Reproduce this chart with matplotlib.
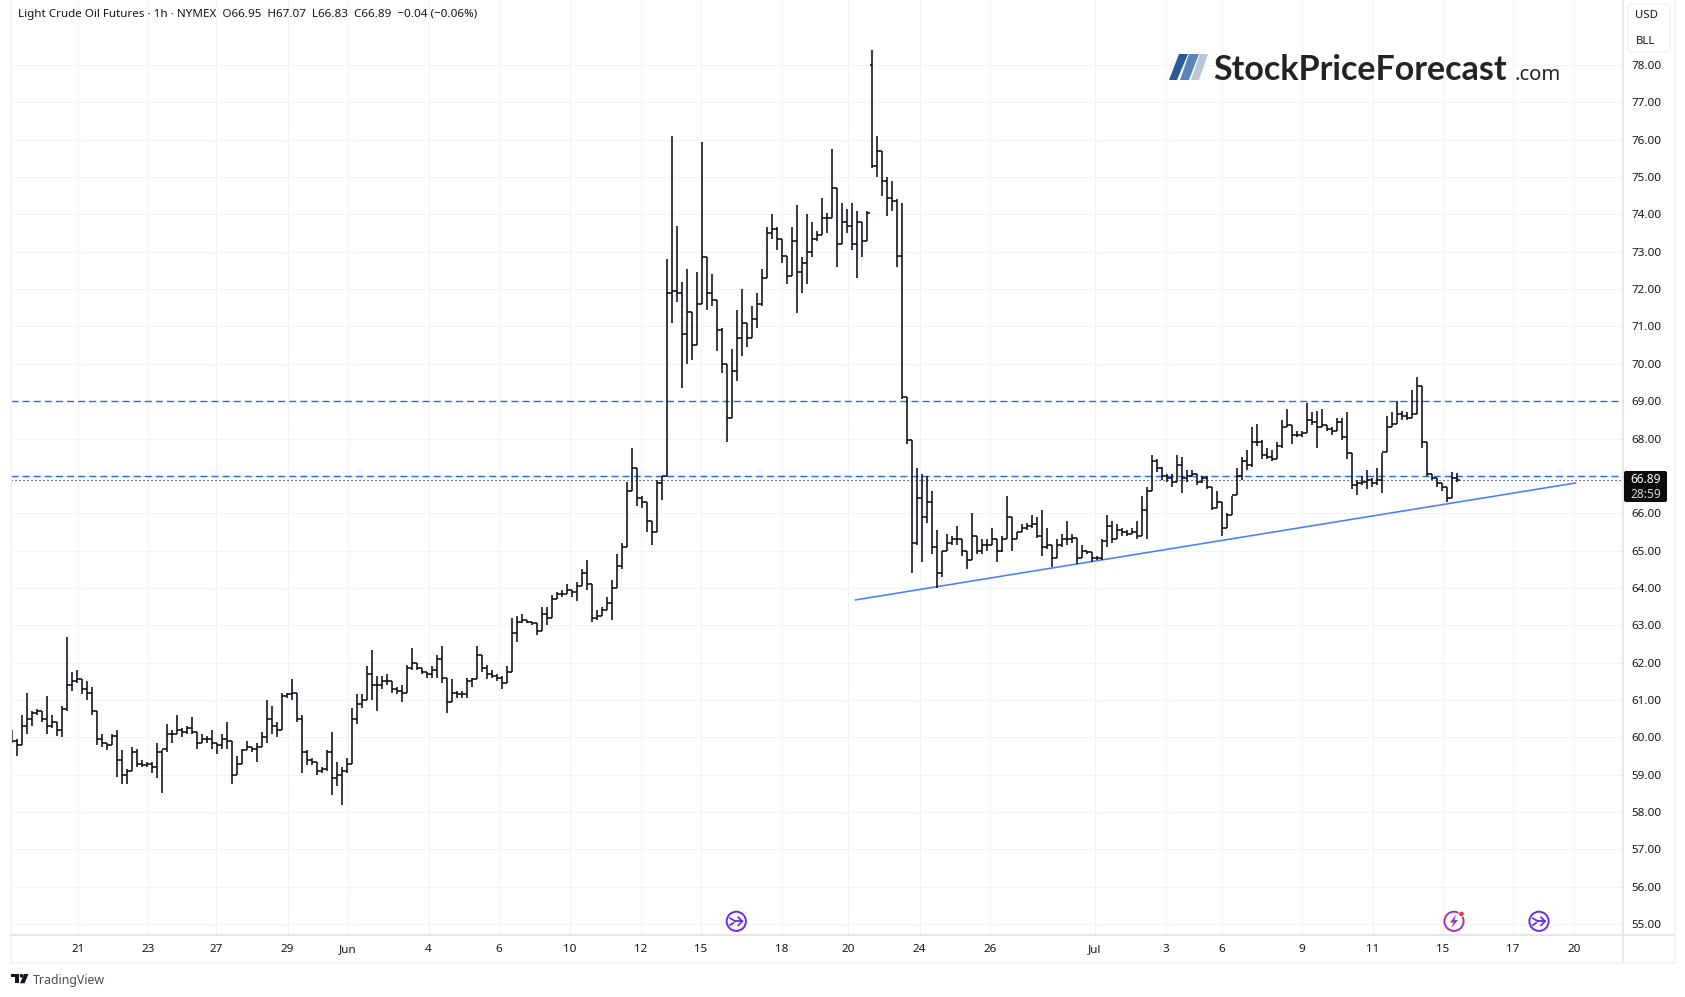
import numpy as np
import matplotlib
matplotlib.use("Agg")
import matplotlib.pyplot as plt
from matplotlib.collections import LineCollection
from matplotlib.patches import Circle, FancyBboxPatch, Polygon

plt.rcParams["font.family"] = ["Noto Sans", "DejaVu Sans"]

# hourly bars, one kept for every three or so
high_may = [60.2,59.95,60.6,61.2,60.7,60.75,60.65,61.1,60.6,60.4,
    60.85,62.7,61.75,61.8,61.5,61.5,61.35,60.6,60.1,59.85,
    60.1,60.2,59.65,59.15,59.75,59.7,59.4,59.35,59.35,59.85,
    59.65,60.35,60.2,60.6,60.25,60.3,60.55,60.1,60.1,60.05,
    60.2,59.85,60.1,60.4,59.8,59.5,59.7,59.9,59.75,59.85,
    60.15,61,60.85,60.4,61.2,61.2,61.55,60.8,60.6,59.65,
    59.45,59.35,59.2,59.65,60.15,59.35,59.2]
low_may = [59.85,59.5,60.1,60.1,60.3,60.6,60.4,60.1,60.25,60.05,
    60,60.7,61.25,61.45,61.15,61,60.6,59.8,59.75,59.65,
    59.85,58.95,58.75,58.75,59.1,59.2,59.2,59.2,59.05,58.9,
    58.5,59.6,59.85,60.1,60,60.1,60.1,59.7,59.9,59.85,
    59.7,59.55,59.7,59.7,58.75,59.05,59.45,59.7,59.6,59.35,
    59.8,59.85,60.1,60,60.55,61.05,61,60.4,59.05,59.25,
    59.25,59,59.05,59.1,58.45,58.7,58.2]
close_may = [59.9,59.8,60.3,60.5,60.65,60.7,60.5,60.3,60.4,60.2,
    60.75,61.4,61.5,61.55,61.3,61.2,60.7,59.95,59.85,59.8,
    60.05,59.4,59,59.1,59.6,59.3,59.25,59.3,59.2,59.6,
    59.7,60.1,60.1,60.2,60.15,60.25,60.15,59.85,59.95,59.95,
    59.85,59.8,59.95,59.9,59,59.3,59.65,59.75,59.7,59.75,
    60,60.5,60.3,60.2,61.1,61.15,61.2,60.5,59.6,59.4,
    59.35,59.1,59.15,59.6,58.9,59.0,59.1]

high_jun = [59.45,60.8,61.15,61.15,61.9,62.35,61.65,61.65,61.7,61.45,
    61.35,61.4,61.95,62.4,62,61.85,61.75,61.9,62.2,62.45,
    61.5,61.55,61.25,61.25,61.6,61.6,62.45,62,61.95,61.8,
    61.7,61.65,61.9,63.2,63.25,63.3,63.15,63.1,63.05,63.5,
    63.5,63.8,63.9,63.95,64.1,63.95,64.15,64.5,64.75,63.95,
    63.4,63.5,63.75,64.2,64.9,65.2,66.85,67.75,66.9,66.45,
    66.2,65.6,66.9,67,72.8,76.1,73.7,72.2,72.55,71.1,
    72.45,75.95,72.55,72.4,71.35,70.95,69.25,70.4,71.45,72,
    71.1,71.55,71.9,72.55,73.65,74,73.65,73.35,72.85,73.65,
    74.25,72.85,74,73.8,73.55,74.45,74.05,75.75,73.95,74.3,
    74.15,74.3,74.1,73.8,74.1,78.4,76.1,75.35,75,74.9,
    74.4,74.3,68.95,67.85,67.2,67.05,67,66.6,65.55,65,
    65.45,65.4,65.65,65.15,65,66,65.3,65.3,65.3,65.6,
    65.2,65.4,66.45,65.55,65.5,65.7,65.75,65.95,65.9,66.1,
    65.6,64.9,65.3,65.45,65.8,65.45,65.1,65.15,65,64.9]
low_jun = [59.05,59.55,60.35,60.8,61,61,60.7,61.3,61.4,61.2,
    61.15,60.95,61.35,61.8,61.8,61.7,61.6,61.6,61.6,61.45,
    60.65,61.1,61.05,61.05,61.05,61.35,61.6,61.75,61.55,61.6,
    61.5,61.3,61.5,62.15,62.55,63.05,63.05,63,62.75,63.1,
    63,63.35,63.75,63.75,63.85,63.75,63.65,64.1,63.95,63.1,
    63.15,63.25,63.4,63.15,64.4,64.5,65.8,66.7,66.2,66.15,
    65.5,65.15,65.75,66.35,67,71.1,71.65,69.35,70,70.1,
    71.15,72.8,71.45,71.55,70.35,69.75,67.9,69.65,69.55,70.2,
    70.45,70.9,70.95,71.55,72.5,73.35,73.05,72.7,72.15,73.15,
    71.35,71.9,72.15,72.85,73.3,73.6,73.5,74.3,72.6,73.2,
    73.5,73.05,72.3,72.85,73.4,75.25,75,74.5,73.95,74.1,
    72.6,69.05,67.85,64.4,65.15,64.7,65.75,64.9,64,64.3,
    65.05,65.15,65.15,64.85,64.5,65.2,64.9,64.9,65,65.15,
    64.7,64.95,65.75,65,65.3,65.55,65.55,65.6,65.35,64.85,
    65.05,64.55,64.85,65.1,65.15,65.2,64.65,64.9,64.9,64.7]
close_jun = [59.3,60.5,60.9,61,61.7,61.4,61.4,61.5,61.5,61.3,
    61.25,61.2,61.85,62,61.85,61.75,61.7,61.8,62.1,61.6,
    60.95,61.2,61.15,61.15,61.5,61.55,62.2,61.85,61.7,61.65,
    61.6,61.45,61.75,62.8,63.1,63.15,63.1,63.05,62.85,63.3,
    63.2,63.7,63.85,63.85,63.95,63.9,64.05,64.4,64.1,63.2,
    63.25,63.4,63.6,64,64.6,65.1,66.6,67.2,66.4,66.3,
    65.8,65.5,66.8,67,71.9,71.95,71.9,70.8,71.4,70.5,
    71.6,72.85,71.9,71.7,70.9,70,68.55,69.8,70.7,71.1,
    70.7,71.2,71.6,72.3,73.5,73.6,73.35,72.9,72.35,73.3,
    72.45,72.7,73,73.35,73.45,73.9,73.9,74.7,73.2,73.8,
    73.7,73.2,73.8,73.3,74.05,75.3,75.7,74.9,74.45,74.35,
    72.9,69.1,67.95,65.2,66.4,65.9,66.3,65.1,64.4,65,
    65.2,65.3,65.3,65,64.75,65.4,65,65.15,65.15,65.3,
    65,65.3,65.9,65.3,65.5,65.6,65.65,65.7,65.4,65.1,
    65.15,64.8,65.15,65.3,65.3,65.35,64.8,65,64.95,64.8]

high_jul = [64.85,65.3,65.95,65.8,65.7,65.6,65.55,65.6,65.8,66.45,
    66.7,67.55,67.45,67.25,67.05,67.05,67.55,67.5,67.15,67.15,
    67.05,67,67,66.6,66.6,66.15,66,66.45,67.2,67.5,
    67.7,68.3,68.4,67.95,67.75,67.7,67.9,68.5,68.8,68.3,
    68.2,68.2,68.95,68.7,68.75,68.8,68.3,68.3,68.55,68.55,
    68.7,67.45,66.9,67,67.15,66.95,67.2,67.6,68.6,68.7,
    69,68.75,68.7,69.3,69.65,69.2,67.5,67,66.95,66.75,
    66.6,67.1,67.07]
low_jul = [64.75,64.75,65.1,65.2,65.35,65.4,65.4,65.45,65.3,65.8,
    65.3,66.95,67.1,66.9,66.85,66.7,66.95,66.55,66.85,67,
    66.75,66.8,66.65,66.1,66.25,65.4,65.6,65.95,66.6,66.9,
    67.15,67.25,67.8,67.45,67.45,67.4,67.55,67.75,68.3,67.85,
    68.05,68.05,68.4,68.35,67.75,68.3,68.2,68.1,68.3,67.95,
    67.45,66.65,66.5,66.75,66.65,66.7,66.75,66.55,67.65,68.3,
    68.5,68.5,68.5,68.55,69,67.75,67,66.9,66.7,66.6,
    66.3,66.5,66.83]
close_jul = [64.8,65.25,65.65,65.3,65.55,65.5,65.45,65.5,65.4,66.1,
    66.6,67.4,67.2,67,66.95,66.85,67.3,66.95,67,67.05,
    66.85,66.95,66.7,66.15,66.3,65.6,65.95,66.5,67,67.4,
    67.3,67.9,67.9,67.55,67.5,67.45,67.8,68.3,68.35,68.1,
    68.1,68.15,68.5,68.45,68.3,68.35,68.25,68.2,68.45,68.05,
    67.6,66.75,66.8,66.85,66.9,66.8,66.9,67.65,68.3,68.4,
    68.65,68.6,68.55,68.65,69.4,67.9,67.05,66.95,66.8,66.7,
    66.4,66.95,66.89]

price_ticks = list(range(55, 79))
date_labels = ["21", "23", "27", "29", "Jun", "4", "6", "10", "12", "15", "18", "20",
               "24", "26", "Jul", "3", "6", "9", "11", "15", "17", "20"]
# where those dates fall, counted in kept bars
date_pos = [13.2, 27.2, 40.8, 55.1, 67.2, 83.3, 97.3, 111.5, 125.7, 137.8, 154.0, 167.2,
            181.5, 195.6, 216.6, 230.8, 241.9, 257.9, 272.1, 286.1, 300.2, 312.4]

level_high = 69.0
level_low = 67.0
last_price = 66.89
trend_x = [168.7, 312.7]
trend_y = [63.68, 66.81]

highs = np.array(high_may + high_jun + high_jul)
lows = np.array(low_may + low_jun + low_jul)
closes = np.array(close_may + close_jun + close_jul)
opens = np.r_[closes[0], closes[:-1]]
opens[172] = 78.0  # the gap up after the weekend
# a bar's range always holds its open
highs = np.maximum(highs, opens)
lows = np.minimum(lows, opens)
xs = np.arange(len(highs))

W, H = 1685, 997
fig = plt.figure(figsize=(W / 100, H / 100), dpi=100, facecolor="white")
ax = fig.add_axes([11 / W, 1 - 935 / H, (1623 - 11) / W, 935 / H])
ax.set_xlim(-0.2, 322.2)
ax.set_ylim(54.71, 79.74)

ax.set_yticks(price_ticks)
ax.set_yticklabels(["%.2f" % p for p in price_ticks])
ax.set_xticks(date_pos)
ax.set_xticklabels(date_labels)
ax.yaxis.tick_right()
ax.tick_params(axis="both", length=0, labelsize=8.4, labelcolor="#131722")
ax.tick_params(axis="y", pad=6)
ax.tick_params(axis="x", pad=6.5)
ax.grid(True, color="#f0f3fa", lw=0.8)
ax.set_axisbelow(True)
for s in ax.spines.values():
    s.set_visible(False)

ax.axhline(level_high, color="#2962ff", lw=1.0, dashes=(5, 3), zorder=2)
ax.axhline(level_low, color="#2962ff", lw=1.0, dashes=(5, 3), zorder=2)
ax.axhline(last_price, color="#131722", lw=0.8, dashes=(1, 2.6), zorder=2)
ax.plot(trend_x, trend_y, color="#4a7dfa", lw=1.15, zorder=2)

# OHLC bars
segs = []
for x, o, h, l, c in zip(xs, opens, highs, lows, closes):
    segs.append([(x, l), (x, h)])
    segs.append([(x - 0.5, o), (x, o)])
    segs.append([(x, c), (x + 0.5, c)])
ax.add_collection(LineCollection(segs, colors="#0c0e14", linewidths=1.15, capstyle="butt", zorder=3))

# everything around the chart, in picture pixels
ov = fig.add_axes([0, 0, 1, 1], facecolor="none")
ov.set_xlim(0, W)
ov.set_ylim(H, 0)
ov.axis("off")

ov.plot([10.5, 10.5], [0, 962], color="#eef0f5", lw=1)
ov.plot([10.5, 1675], [935, 935], color="#e0e3eb", lw=1.2)
ov.plot([1623, 1623], [0, 962], color="#e0e3eb", lw=1.2)
ov.plot([10.5, 1675], [962.5, 962.5], color="#f0f3fa", lw=1.6)
ov.plot([1675, 1675], [0, 962], color="#f0f3fa", lw=1)

ov.text(18, 15, "Light Crude Oil Futures · 1h · NYMEX  O66.95  H67.07  L66.83  C66.89  −0.04 (−0.06%)",
        fontsize=8.4, color="#131722", va="center", ha="left")

# currency / unit box
ov.add_patch(FancyBboxPatch((1628, 4), 42, 48, boxstyle="round,pad=0,rounding_size=4",
                            fc="white", ec="#f0f3fa", lw=1, zorder=4))
ov.text(1646, 16, "USD", fontsize=8.2, color="#131722", ha="center", va="center", zorder=5)
ov.text(1646, 41, "BLL", fontsize=8.2, color="#131722", ha="center", va="center", zorder=5)

# last price tag
ov.add_patch(FancyBboxPatch((1624, 471), 43, 31, boxstyle="round,pad=0,rounding_size=2",
                            fc="#0b0b0b", ec="none", zorder=4))
ov.text(1646, 479, "66.89", fontsize=8.6, color="white", ha="center", va="center", zorder=5)
ov.text(1646, 494, "28:59", fontsize=8.6, color="#d1d4dc", ha="center", va="center", zorder=5)

# StockPriceForecast logo
for pts, col in [([(1169, 80), (1177, 80), (1188, 54), (1179, 54)], "#2b5a9a"),
                 ([(1180, 80), (1189, 80), (1199, 54), (1189, 54)], "#5b85b8"),
                 ([(1191, 80), (1199, 80), (1208, 54), (1200, 54)], "#b7c7d5")]:
    ov.add_patch(Polygon(pts, closed=True, fc=col, ec="none"))
ov.text(1213, 79.5, "StockPriceForecast", fontsize=24.5, fontfamily="Lato", fontweight="bold",
        color="#222326", ha="left", va="baseline")
ov.text(1514, 79.5, ".com", fontsize=14.5, color="#222326", ha="left", va="baseline")

# TradingView mark
ov.add_patch(Polygon([(10.7, 974), (18.7, 974), (18.7, 983.3), (14.7, 983.3), (14.7, 977.3), (10.7, 977.3)],
                     closed=True, fc="#131722", ec="none"))
ov.add_patch(Circle((21.6, 975.8), 1.9, fc="#131722", ec="none"))
ov.add_patch(Polygon([(24, 974), (28.5, 974), (24.5, 983.3), (20, 983.3)], closed=True, fc="#131722", ec="none"))
ov.text(33, 980, "TradingView", fontsize=8.9, color="#4a4e5a", ha="left", va="center")

# event icons on the time axis
for cx in [736.3, 1539]:
    ov.add_patch(Circle((cx, 921.3), 9.6, fc="white", ec="#6a2bf0", lw=1.4, zorder=4))
    ov.plot([cx - 1, cx + 6], [921.3, 921.3], color="#6a2bf0", lw=1.3, zorder=5)
    ov.plot([cx + 2, cx + 6, cx + 2], [917.3, 921.3, 925.3], color="#6a2bf0", lw=1.3, zorder=5)
    ov.plot([cx - 6, cx - 1], [918.3, 921.3], color="#6a2bf0", lw=1.3, zorder=5)
    ov.plot([cx - 6, cx - 3], [925, 923], color="#6a2bf0", lw=1.3, zorder=5)
ov.add_patch(Circle((1454, 921.3), 9.6, fc="white", ec="#a62fc0", lw=1.4, zorder=4))
ov.add_patch(Polygon([(1456, 914.5), (1450, 922.5), (1453.5, 922.5), (1451.5, 928), (1458, 920),
                      (1454.5, 920)], closed=True, fc="#a62fc0", ec="none", zorder=5))
ov.add_patch(Circle((1461.4, 914), 2.8, fc="#f23645", ec="white", lw=0.6, zorder=6))

fig.savefig("out.png", dpi=100)
